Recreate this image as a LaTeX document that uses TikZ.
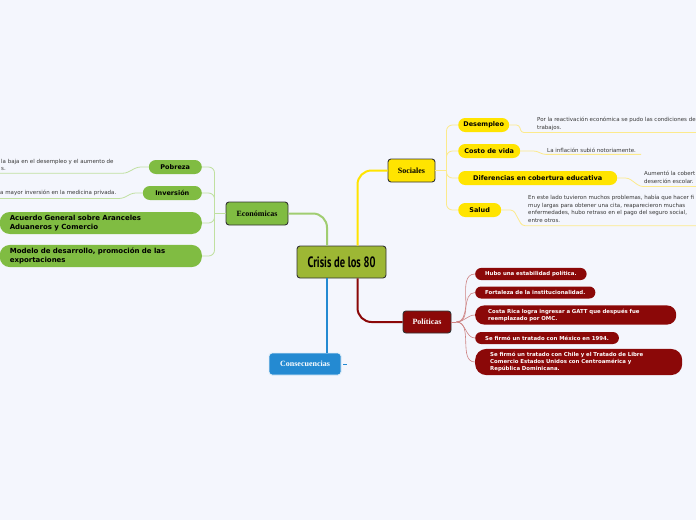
\documentclass[tikz,border=0pt]{standalone}
\usepackage{fontspec}
\setmainfont{Liberation Serif}
\newfontfamily\pillfont{DejaVu Sans}
\newfontfamily\rootfont[FakeStretch=0.7]{PT Sans}
\usetikzlibrary{positioning, calc}
\definecolor{fondo}{RGB}{244,246,253}
\definecolor{raiz}{RGB}{157,183,52}
\definecolor{amarillo}{RGB}{255,228,0}
\definecolor{verde}{RGB}{128,188,66}
\definecolor{rojo}{RGB}{139,8,8}
\definecolor{azul}{RGB}{36,138,210}
\definecolor{nota}{RGB}{55,55,55}
\definecolor{ramaA}{RGB}{252,234,140}
\definecolor{ramaV}{RGB}{192,224,160}
\definecolor{ramaR}{RGB}{205,130,130}

\tikzset{
  root/.style={draw=black!80, line width=0.9pt, rounded corners=3pt, fill=raiz,
    minimum width=89pt, minimum height=32pt,
    font=\rootfont\bfseries\fontsize{15}{15}\selectfont},
  topic/.style={draw=black!80, line width=0.9pt, rounded corners=3pt,
    minimum height=23pt, inner xsep=0pt, font=\bfseries\fontsize{8}{8}\selectfont},
  pill/.style={rounded corners=7pt, minimum height=14pt, inner xsep=0pt,
    font=\pillfont\bfseries\fontsize{6.5}{7.6}\selectfont},
  bigpill/.style={pill, fill=verde, anchor=east, rounded corners=10pt, minimum height=22pt,
    inner xsep=10pt, text width=182pt, align=left,
    font=\pillfont\bfseries\fontsize{7}{8.4}\selectfont},
  rpill/.style={rounded corners=6pt, fill=rojo, text=white, anchor=west,
    inner xsep=10pt, minimum height=12pt, align=left,
    font=\pillfont\bfseries\fontsize{5.4}{7}\selectfont},
  note/.style={font=\pillfont\fontsize{5.5}{7.6}\selectfont, text=nota,
    align=left, inner sep=0pt, anchor=north west},
  conex/.style={line width=2pt, rounded corners=14pt},
  rama/.style={line width=0.8pt, rounded corners=6pt}
}

\begin{document}
\begin{tikzpicture}[x=1pt, y=-1pt]
  \useasboundingbox (0,0) rectangle (696,520);
  \fill[fondo] (0,0) rectangle (696,520);
  % nodos principales
  \node[root] (crisis) at (341.5,262) {Crisis de los 80};
  \node[topic, fill=amarillo, minimum width=47pt] (soc) at (411.5,170.5) {Sociales};
  \node[topic, fill=verde, minimum width=62pt] (eco) at (257,213.5) {Económicas};
  \node[topic, fill=rojo, text=white, minimum width=48pt, minimum height=22pt] (pol) at (427,322) {Políticas};
  \node[topic, fill=azul, text=white, draw=white!85!azul, minimum width=72pt, minimum height=22pt] (cons) at (305,364) {Consecuencias};

  % sociales
  \node[pill, fill=amarillo, anchor=west, minimum width=51pt] (desem) at (458,125) {Desempleo};
  \node[pill, fill=amarillo, anchor=west, minimum width=62pt] (costo) at (458,151) {Costo de vida};
  \node[pill, fill=amarillo, anchor=west, minimum width=159pt] (difer) at (458,178) {Diferencias en cobertura educativa};
  \node[pill, fill=amarillo, anchor=west, minimum width=43pt] (salud) at (458,210) {Salud};
  \node[note] (desemN) at (537,117) {Por la reactivación económica se pudo las condiciones de\\trabajos.};
  \node[note] (costoN) at (547,147.5) {La inflación subió notoriamente.};
  \node[note] (diferN) at (644,171) {Aumentó la cobert\\deserción escolar.};
  \node[note] (saludN) at (528,195) {En este lado tuvieron muchos problemas, había que hacer fi\\muy largas para obtener una cita, reaparecieron muchas\\enfermedades, hubo retraso en el pago del seguro social,\\entre otros.};

  % economicas
  \node[pill, fill=verde, anchor=east, minimum width=53pt] (pobre) at (202,167) {Pobreza};
  \node[pill, fill=verde, anchor=east, minimum width=59pt] (inver) at (202,193) {Inversión};
  \node[bigpill] (acuer) at (202,223) {Acuerdo General sobre Aranceles\\Aduaneros y Comercio};
  \node[bigpill] (model) at (202,256) {Modelo de desarrollo, promoción de las\\exportaciones};
  \node[note] (pobreN) at (1,159) {la baja en el desempleo y el aumento de\\s.};
  \node[note] (inverN) at (0,189.5) {a mayor inversión en la medicina privada.};

  % politicas
  \node[rpill] (estab) at (475,274) {Hubo una estabilidad política.};
  \node[rpill] (forta) at (475,292.5) {Fortaleza de la institucionalidad.};
  \node[rpill, rounded corners=9pt, inner xsep=13pt, minimum height=18pt, text width=175pt] (gatt) at (475,315)
    {Costa Rica logra ingresar a GATT que después fue\\reemplazado por OMC.};
  \node[rpill] (mexic) at (475,338) {Se firmó un tratado con México en 1994.};
  \node[rpill, rounded corners=11pt, inner xsep=15pt, minimum height=24pt, text width=177pt] (chile) at (475,362)
    {Se firmó un tratado con Chile y el Tratado de Libre\\Comercio Estados Unidos con Centroamérica y\\República Dominicana.};

  % conexiones principales
  \draw[conex, amarillo] ([xshift=16pt]crisis.north) |- (soc.west);
  \draw[conex, verde!75!white] ([xshift=-14.5pt]crisis.north) |- (eco.east);
  \draw[conex, rojo] ([xshift=16pt]crisis.south) |- (pol.west);
  \draw[conex, azul] ([xshift=-14.5pt]crisis.south) coordinate (bajaA) -- (bajaA |- cons.north);
  \draw[azul, line width=0.8pt] ([xshift=2pt]cons.east) -- ++(4,0);

  % ramas
  \draw[rama, ramaA] (soc.east) -- ++(11,0) coordinate (socT);
  \foreach \n in {desem, costo, difer, salud}
    \draw[rama, ramaA] (socT) |- (\n.west);
  \draw[rama, ramaV] (eco.west) -- ++(-11,0) coordinate (ecoT);
  \foreach \n in {pobre, inver, acuer, model}
    \draw[rama, ramaV] (ecoT) |- (\n.east);
  \draw[line width=0.8pt, ramaR] (pol.east) -- ++(5,0) coordinate (polT);
  \foreach \n in {estab, forta, gatt, mexic, chile}
    \draw[line width=0.6pt, ramaR] (polT) to[out=0, in=180] (\n.west);

  % notas
  \draw[rama, ramaA, rounded corners=3pt] (desem.east) -- ++(10,0) -- ($(desemN.south west)+(-16,2)$) -- ($(desemN.south east)+(10,2)$);
  \draw[rama, ramaA, rounded corners=3pt] (costo.east) -- ++(16,0) -- ($(costoN.south west)+(-4,2)$) -- ($(costoN.south east)+(5,2)$);
  \draw[rama, ramaA, rounded corners=3pt] (difer.east) -- ++(11,0) -- ($(diferN.south west)+(-4,3)$) -- ($(diferN.south east)+(10,3)$);
  \draw[rama, ramaA, rounded corners=3pt] (salud.east) -- ++(12,0) -- ($(saludN.south west)+(-6,3)$) -- ($(saludN.south east)+(10,3)$);
  \draw[rama, ramaV, rounded corners=3pt] (pobre.west) -- ++(-11,0) -- ($(pobreN.south east)+(12,2)$) -- ($(pobreN.south west)+(-5,2)$);
  \draw[rama, ramaV, rounded corners=3pt] (inver.west) -- ++(-10,0) -- ($(inverN.south east)+(6,3)$) -- ($(inverN.south west)+(-5,3)$);
\end{tikzpicture}
\end{document}
